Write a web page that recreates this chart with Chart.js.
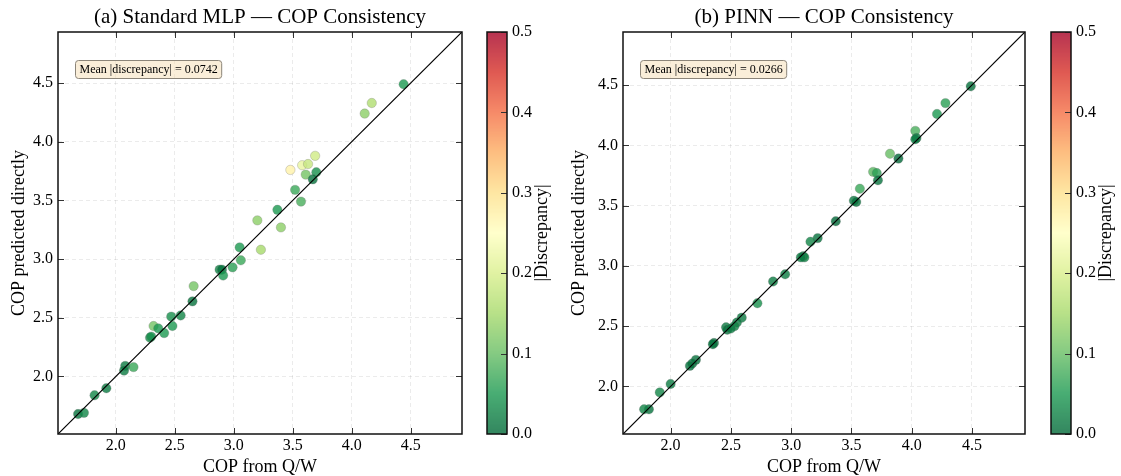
<!DOCTYPE html>
<html lang="en">
<head>
<meta charset="UTF-8">
<title>COP Consistency</title>
<script src="https://cdn.jsdelivr.net/npm/chart.js"></script>
<style>
  body { margin: 0; background: #fff; }
  #wrap { position: relative; width: 1121px; height: 476px; }
  canvas { position: absolute; top: 0; }
</style>
</head>
<body>
<div id="wrap">
  <canvas id="mlpChart" width="560" height="476" style="left:0"></canvas>
  <canvas id="pinnChart" width="561" height="476" style="left:560px"></canvas>
</div>
<script>
// (a) Standard MLP: COP from Q/W, COP predicted directly, |discrepancy|
const mlpFromQW = [4.44, 4.17, 4.11, 3.69, 3.48, 3.58, 3.63, 3.61, 3.70, 3.67, 3.52, 3.57, 3.37, 3.20, 3.40, 3.23,
                   3.05, 3.06, 2.99, 2.88, 2.90, 2.91, 2.66, 2.65, 2.47, 2.55, 2.48, 2.32, 2.36, 2.41, 2.29, 2.30,
                   2.08, 2.07, 2.15, 1.92, 1.82, 1.68, 1.73];
const mlpDirect = [4.49, 4.33, 4.24, 3.88, 3.76, 3.80, 3.81, 3.72, 3.74, 3.68, 3.59, 3.49, 3.42, 3.33, 3.27, 3.08,
                   3.10, 2.99, 2.93, 2.91, 2.91, 2.86, 2.77, 2.64, 2.51, 2.52, 2.43, 2.43, 2.41, 2.37, 2.33, 2.34,
                   2.09, 2.05, 2.08, 1.90, 1.84, 1.68, 1.69];
const mlpDisc   = [0.05, 0.16, 0.13, 0.19, 0.27, 0.22, 0.18, 0.11, 0.04, 0.01, 0.07, 0.08, 0.05, 0.13, 0.13, 0.15,
                   0.05, 0.07, 0.06, 0.03, 0.01, 0.05, 0.11, 0.01, 0.04, 0.03, 0.05, 0.11, 0.05, 0.05, 0.04, 0.04,
                   0.02, 0.02, 0.07, 0.02, 0.03, 0.01, 0.03];

// (b) PINN
const pinnFromQW = [4.49, 4.28, 4.21, 4.03, 4.04, 4.03, 3.89, 3.82, 3.68, 3.71, 3.72, 3.57, 3.52, 3.54, 3.37, 3.22,
                    3.16, 3.10, 3.11, 3.08, 2.95, 2.85, 2.72, 2.59, 2.55, 2.53, 2.46, 2.47, 2.50, 2.36, 2.35, 2.21,
                    2.18, 2.16, 2.00, 1.91, 1.82, 1.78];
const pinnDirect = [4.49, 4.35, 4.26, 4.12, 4.06, 4.05, 3.89, 3.93, 3.78, 3.77, 3.71, 3.64, 3.54, 3.53, 3.37, 3.23,
                    3.20, 3.08, 3.07, 3.07, 2.93, 2.87, 2.69, 2.57, 2.53, 2.50, 2.49, 2.47, 2.48, 2.36, 2.35, 2.22,
                    2.19, 2.17, 2.02, 1.95, 1.81, 1.81];
const pinnDisc   = [0.01, 0.06, 0.05, 0.08, 0.02, 0.02, 0.00, 0.10, 0.09, 0.06, 0.01, 0.07, 0.02, 0.01, 0.00, 0.01,
                    0.03, 0.02, 0.03, 0.02, 0.02, 0.02, 0.04, 0.02, 0.02, 0.03, 0.02, 0.01, 0.02, 0.01, 0.01, 0.01,
                    0.01, 0.01, 0.02, 0.03, 0.01, 0.03];

const axisTicks = [2.0, 2.5, 3.0, 3.5, 4.0, 4.5];
const cbTicks = [0.0, 0.1, 0.2, 0.3, 0.4, 0.5];
const mlpLimits = [1.51, 4.935];
const pinnLimits = [1.605, 4.94];
const mlpMean = '0.0742';
const pinnMean = '0.0266';

const SERIF = "'Liberation Serif', 'Times New Roman', serif";
Chart.defaults.font.family = SERIF;
Chart.defaults.color = '#000';

// RdYlGn, reversed below
const RdYlGn = [[165,0,38],[215,48,39],[244,109,67],[253,174,97],[254,224,139],[255,255,191],
                [217,239,139],[166,217,106],[102,189,99],[26,152,80],[0,104,55]];
function cmap(v) {
  const t = 1 - Math.min(Math.max(v / 0.5, 0), 1);
  const f = t * 10, i = Math.min(Math.floor(f), 9), u = f - i;
  const a = RdYlGn[i], b = RdYlGn[i + 1];
  return a.map((c, k) => Math.round(c + (b[k] - c) * u));
}
const rgba = (c, al) => `rgba(${c[0]},${c[1]},${c[2]},${al})`;

function line(ctx, x1, y1, x2, y2) {
  ctx.beginPath(); ctx.moveTo(x1, y1); ctx.lineTo(x2, y2); ctx.stroke();
}

// frame, inward ticks, colorbar, text box, title
const decor = {
  id: 'decor',
  afterDraw(chart, args, o) {
    const {ctx, chartArea: a, scales} = chart;
    const {x, y, cb} = scales;
    ctx.save();

    ctx.fillStyle = '#000';
    ctx.font = '21px ' + SERIF;
    ctx.textAlign = 'center';
    ctx.textBaseline = 'middle';
    ctx.fillText(o.title, (a.left + a.right) / 2, 17);

    ctx.strokeStyle = '#333';
    ctx.lineWidth = 1;
    x.ticks.forEach(t => {
      const px = Math.round(x.getPixelForValue(t.value)) + 0.5;
      line(ctx, px, a.bottom, px, a.bottom - 6);
      line(ctx, px, a.top, px, a.top + 6);
    });
    y.ticks.forEach(t => {
      const py = Math.round(y.getPixelForValue(t.value)) + 0.5;
      line(ctx, a.left, py, a.left + 6, py);
      line(ctx, a.right, py, a.right - 6, py);
    });
    ctx.strokeStyle = '#111';
    ctx.lineWidth = 1.5;
    ctx.strokeRect(a.left, a.top, a.right - a.left, a.bottom - a.top);

    // colorbar
    const x0 = a.right + o.cbGap, w = 20;
    for (let py = Math.floor(cb.top); py < cb.bottom; py++) {
      ctx.fillStyle = rgba(cmap(cb.getValueForPixel(py + 0.5)), 0.8);
      ctx.fillRect(x0, py, w, 1);
    }
    ctx.strokeStyle = '#333';
    ctx.lineWidth = 1;
    cb.ticks.forEach(t => {
      const py = Math.round(cb.getPixelForValue(t.value)) + 0.5;
      line(ctx, x0 + w, py, x0 + w - 6, py);
    });
    ctx.strokeStyle = '#111';
    ctx.lineWidth = 1.5;
    ctx.strokeRect(x0, cb.top, w, cb.bottom - cb.top);

    ctx.save();
    ctx.translate(x0 + w + 35, (cb.top + cb.bottom) / 2);
    ctx.rotate(-Math.PI / 2);
    ctx.fillStyle = '#000';
    ctx.font = '18px ' + SERIF;
    ctx.textAlign = 'center';
    ctx.textBaseline = 'middle';
    ctx.fillText('|Discrepancy|', 0, 0);
    ctx.restore();

    // mean discrepancy box
    ctx.font = '12px ' + SERIF;
    const txt = 'Mean |discrepancy| = ' + o.mean;
    const tw = ctx.measureText(txt).width;
    const bx = a.left + 17.5, by = a.top + 28.5, bw = tw + 8, bh = 18;
    ctx.beginPath();
    ctx.roundRect(bx, by, bw, bh, 3);
    ctx.fillStyle = 'rgba(245,222,179,0.5)';
    ctx.fill();
    ctx.strokeStyle = '#8c8579';
    ctx.lineWidth = 1;
    ctx.stroke();
    ctx.fillStyle = '#000';
    ctx.textAlign = 'left';
    ctx.textBaseline = 'middle';
    ctx.fillText(txt, bx + 4, by + bh / 2 + 0.5);

    ctx.restore();
  }
};

function setTicks(vals) {
  return scale => { scale.ticks = vals.map(v => ({value: v})); };
}

function makeChart(id, xs, ys, disc, lim, opts) {
  const pts = xs.map((v, i) => ({x: v, y: ys[i]}));
  const gridOpts = {color: 'rgba(0,0,0,0.1)', lineWidth: 0.8, drawTicks: false};
  const borderOpts = {display: false, dash: [4, 3]};
  return new Chart(document.getElementById(id), {
    type: 'scatter',
    data: {
      datasets: [
        {
          type: 'line',
          data: [{x: lim[0], y: lim[0]}, {x: lim[1], y: lim[1]}],
          borderColor: '#000',
          borderWidth: 1.2,
          pointRadius: 0,
          order: 0
        },
        {
          data: pts,
          pointRadius: 4.7,
          pointBackgroundColor: disc.map(d => rgba(cmap(d), 0.8)),
          pointBorderColor: 'rgba(110,110,110,0.55)',
          pointBorderWidth: 0.5,
          order: 1
        }
      ]
    },
    options: {
      responsive: false,
      animation: false,
      events: [],
      layout: {padding: {top: 32, left: 0, right: 0, bottom: 0}},
      plugins: {
        legend: {display: false},
        tooltip: {enabled: false},
        decor: {title: opts.title, mean: opts.mean, cbGap: opts.cbGap}
      },
      scales: {
        x: {
          type: 'linear', position: 'bottom', min: lim[0], max: lim[1],
          afterBuildTicks: setTicks(axisTicks),
          afterFit: s => { s.height = 42; s.paddingLeft = 0; s.paddingRight = 0; },
          grid: gridOpts, border: borderOpts,
          ticks: {padding: 2, font: {size: 16}, callback: v => v.toFixed(1)},
          title: {display: true, text: 'COP from Q/W', font: {size: 18, lineHeight: 1}, padding: {top: 0, bottom: 0}}
        },
        y: {
          type: 'linear', position: 'left', min: lim[0], max: lim[1],
          afterBuildTicks: setTicks(axisTicks),
          afterFit: s => { s.width = opts.yWidth; s.paddingTop = 0; s.paddingBottom = 0; },
          grid: gridOpts, border: borderOpts,
          ticks: {padding: 5, font: {size: 16}, callback: v => v.toFixed(1)},
          title: {display: true, text: 'COP predicted directly', font: {size: 18, lineHeight: 1}, padding: {top: 10, bottom: 0}}
        },
        cb: {
          type: 'linear', axis: 'y', position: 'right', min: 0, max: 0.5,
          afterBuildTicks: setTicks(cbTicks),
          afterFit: s => { s.width = opts.cbWidth; s.paddingTop = 0; s.paddingBottom = 0; },
          grid: {display: false, drawTicks: false}, border: {display: false},
          ticks: {padding: opts.cbGap + 25, font: {size: 16}, callback: v => v.toFixed(1)}
        }
      }
    },
    plugins: [decor]
  });
}

makeChart('mlpChart', mlpFromQW, mlpDirect, mlpDisc, mlpLimits,
  {title: '(a) Standard MLP \u2014 COP Consistency', mean: mlpMean, yWidth: 58, cbWidth: 98, cbGap: 25});
makeChart('pinnChart', pinnFromQW, pinnDirect, pinnDisc, pinnLimits,
  {title: '(b) PINN \u2014 COP Consistency', mean: pinnMean, yWidth: 63, cbWidth: 96, cbGap: 26});
</script>
</body>
</html>
